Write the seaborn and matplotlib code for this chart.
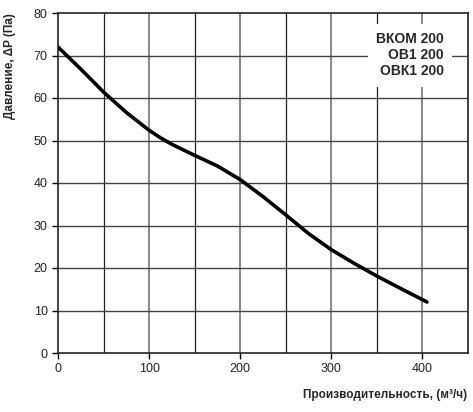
import numpy as np
import pandas as pd
import matplotlib.pyplot as plt
import seaborn as sns

sns.set_theme(style="white")
plt.rcParams['font.family'] = ['Liberation Sans', 'DejaVu Sans']

# Данные характеристики вентилятора
flow = [0, 25, 50, 75, 100, 112, 125, 150, 175, 200, 225, 250, 275, 300, 325, 350, 375, 405]
pressure = [72, 66.8, 61.4, 56.6, 52.4, 50.7, 49.1, 46.5, 44.0, 40.8, 36.8, 32.5, 28.1, 24.3, 21.1, 18.1, 15.3, 12.0]
models = ['ВКОМ 200', 'ОВ1 200', 'ОВК1 200']

data = pd.DataFrame({'Q': flow, 'P': pressure})

fig = plt.figure(figsize=(4.73, 4.12), dpi=100)
ax = fig.add_axes([58 / 473, 1 - 353 / 412, 410 / 473, 340 / 412])

# Сетка
for xv in range(50, 450, 50):
    if xv % 100 == 0:
        ax.axvline(xv, color='#888888', lw=1.4, zorder=1)
    else:
        ax.axvline(xv, color='#222222', lw=0.9, zorder=1)
for yv in range(10, 80, 10):
    ax.axhline(yv, color='#444444', lw=1.0, zorder=1)

sns.lineplot(data=data, x='Q', y='P', color='black', lw=2.6, ax=ax, zorder=3)
ax.lines[-1].set_solid_joinstyle('round')

ax.set_xlim(0, 450)
ax.set_ylim(0, 80)
ax.set_xticks([0, 100, 200, 300, 400])
ax.set_yticks(range(0, 81, 10))
ax.tick_params(axis='both', labelsize=9, length=4, width=1, color='black',
               direction='out', bottom=True, left=True, colors='#222222')
for s in ax.spines.values():
    s.set_color('#222222')
    s.set_linewidth(1.2)

ax.set_xlabel('')
ax.set_ylabel('')

# Подписи моделей
ax.text(444 / 473, 1 - 32 / 412, '\n'.join(models), transform=fig.transFigure,
        ha='right', va='top', fontsize=10, fontweight='bold', linespacing=1.2,
        bbox=dict(facecolor='white', edgecolor='none', pad=6), zorder=4)

fig.text(10 / 473, 1 - 66 / 412, 'Давление, ΔP (Па)', rotation=90,
         ha='center', va='center', fontsize=8.5, fontweight='bold')
fig.text(467 / 473, 1 - 395 / 412, 'Производительность, (м³/ч)',
         ha='right', va='center', fontsize=8.5, fontweight='bold')

fig.savefig('out.png', dpi=100)
